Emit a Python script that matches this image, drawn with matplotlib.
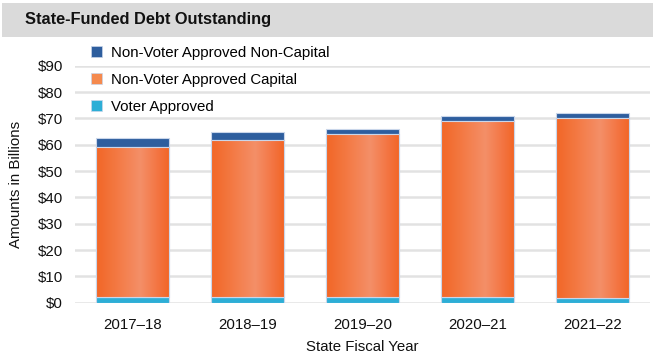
import matplotlib
matplotlib.use("Agg")
import matplotlib.pyplot as plt
from matplotlib.colors import LinearSegmentedColormap
from matplotlib.patches import Rectangle, Patch
import numpy as np

plt.rcParams['font.family'] = ['Liberation Sans', 'DejaVu Sans']

years = ["2017\u201318", "2018\u201319", "2019\u201320", "2020\u201321", "2021\u201322"]
voter_approved = [2.3, 2.1, 2.0, 2.0, 1.9]
nonvoter_capital = [56.9, 59.5, 61.9, 66.9, 68.4]
nonvoter_noncapital = [3.4, 3.1, 2.2, 1.9, 1.7]
yticks = [0, 10, 20, 30, 40, 50, 60, 70, 80, 90]
ytick_labels = ["$" + str(v) for v in yticks]

c_dark = "#2E5E9E"
c_orange = "#F26A28"
c_orange_leg = "#F58A4E"
c_cyan = "#2DAED6"
c_edge = "#C9D6EA"

W, H = 655, 356
fig = plt.figure(figsize=(W / 100, H / 100), dpi=100)

# title band
fig.patches.append(Rectangle((2 / W, 1 - 37 / H), 651 / W, 34 / H, transform=fig.transFigure,
                             facecolor="#DADADA", edgecolor="none", zorder=0))
fig.text(25 / W, 1 - 19.5 / H, "State-Funded Debt Outstanding", fontsize=11.8,
         fontweight="bold", va="center", ha="left", color="#111111")

ax = fig.add_axes([75 / W, 53.3 / H, 575 / W, 237 / H])
x = np.arange(len(years))
bw = 0.64

bottom2 = np.array(voter_approved)
bottom3 = bottom2 + np.array(nonvoter_capital)

b1 = ax.bar(x, voter_approved, width=bw, color=c_cyan, edgecolor=c_edge, linewidth=0.8, zorder=3)
b2 = ax.bar(x, nonvoter_capital, width=bw, bottom=bottom2, color=c_orange, edgecolor=c_edge,
            linewidth=0.8, zorder=3)
b3 = ax.bar(x, nonvoter_noncapital, width=bw, bottom=bottom3, color=c_dark, edgecolor=c_edge,
            linewidth=0.8, zorder=3)

cmap = LinearSegmentedColormap.from_list(
    "og", [(0.0, "#F26626"), (0.25, "#F37740"), (0.6, "#F48F68"), (0.85, "#F37340"), (1.0, "#F26524")])
grad = np.linspace(0, 1, 256).reshape(1, -1)
for p in b2.patches:
    x0, y0 = p.get_x(), p.get_y()
    w, h = p.get_width(), p.get_height()
    im = ax.imshow(grad, cmap=cmap, extent=[x0, x0 + w, y0, y0 + h], aspect="auto",
                   zorder=3.5, interpolation="bilinear")
    im.set_clip_path(p)
    ax.add_patch(Rectangle((x0, y0), w, h, facecolor="none", edgecolor=c_edge, linewidth=0.8, zorder=4))

ax.set_xlim(-0.5, len(years) - 0.5)
ax.set_ylim(0, 90)
ax.set_yticks(yticks)
ax.set_yticklabels(ytick_labels)
ax.set_xticks(x)
ax.set_xticklabels(years)
ax.tick_params(axis="both", length=0, labelsize=10.8, colors="#111111")
ax.tick_params(axis="y", pad=8.5)
ax.tick_params(axis="x", pad=11)
ax.grid(axis="y", color="#E2E2E2", linewidth=1.8, zorder=0)
ax.set_axisbelow(True)
for s in ax.spines.values():
    s.set_visible(False)
ax.set_ylabel("Amounts in Billions", fontsize=10.8, color="#111111", labelpad=11)
ax.set_xlabel("State Fiscal Year", fontsize=10.8, color="#111111", labelpad=6)

handles = [Patch(facecolor=c_dark, edgecolor=c_edge, linewidth=0.5),
           Patch(facecolor=c_orange_leg, edgecolor=c_edge, linewidth=0.5),
           Patch(facecolor=c_cyan, edgecolor=c_edge, linewidth=0.5)]
labels = ["Non-Voter Approved Non-Capital", "Non-Voter Approved Capital", "Voter Approved"]
fig.legend(handles, labels, loc="upper left", bbox_to_anchor=(86 / W, 1 - 41 / H),
           frameon=False, fontsize=10.8, handlelength=0.75, handleheight=0.75,
           handletextpad=0.6, labelspacing=0.88, borderaxespad=0, borderpad=0.3)

fig.savefig("out.png", dpi=100)
